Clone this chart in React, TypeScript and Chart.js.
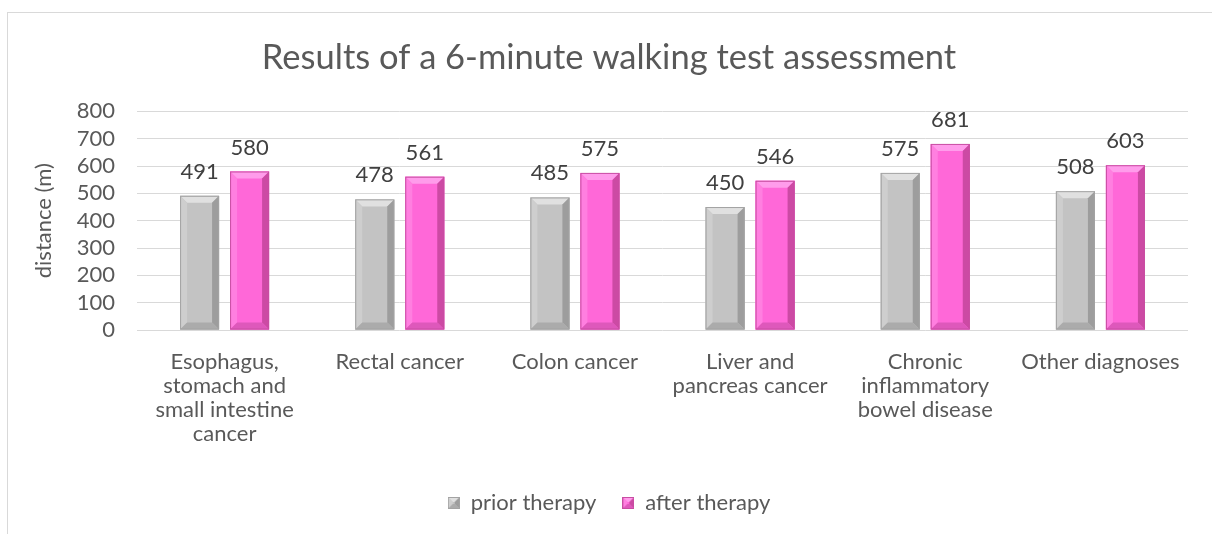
import React, { useEffect, useRef } from "react";
import { Chart, registerables } from "chart.js";

Chart.register(...registerables);

const categories: (string | string[])[] = [
  ["Esophagus,", "stomach and", "small intestine", "cancer"],
  "Rectal cancer",
  "Colon cancer",
  ["Liver and", "pancreas cancer"],
  ["Chronic", "inflammatory", "bowel disease"],
  "Other diagnoses",
];
const priorTherapy = [491, 478, 485, 450, 575, 508];
const afterTherapy = [580, 561, 575, 546, 681, 603];
const seriesNames = ["prior therapy", "after therapy"];
const yTicks = [0, 100, 200, 300, 400, 500, 600, 700, 800];

const FONT = "Lato, 'Open Sans', sans-serif";
const TEXT = "#595959";

type Bevel = { face: string; top: string; left: string; right: string; bottom: string; edge: string };
const GRAY: Bevel = { face: "#c3c3c3", top: "#e0e0e0", left: "#cecece", right: "#9d9d9d", bottom: "#ababab", edge: "#a3a3a3" };
const PINK: Bevel = { face: "#ff68d8", top: "#ff9ceb", left: "#ff7fe0", right: "#cc4aa4", bottom: "#de58bb", edge: "#c84ea2" };

function drawBevel(ctx: CanvasRenderingContext2D, l: number, t: number, r: number, b: number, c: Bevel, bv: number) {
  const poly = (pts: number[][], col: string) => {
    ctx.beginPath();
    ctx.moveTo(pts[0][0], pts[0][1]);
    for (let i = 1; i < pts.length; i++) ctx.lineTo(pts[i][0], pts[i][1]);
    ctx.closePath();
    ctx.fillStyle = col;
    ctx.fill();
  };
  const h = b - t;
  const bb = Math.min(bv, h / 2, (r - l) / 2);
  poly([[l, t], [r, t], [r, b], [l, b]], c.face);
  poly([[l, t], [r, t], [r - bb, t + bb], [l + bb, t + bb]], c.top);
  poly([[l, t], [l + bb, t + bb], [l + bb, b - bb], [l, b]], c.left);
  poly([[r, t], [r, b], [r - bb, b - bb], [r - bb, t + bb]], c.right);
  poly([[l, b], [l + bb, b - bb], [r - bb, b - bb], [r, b]], c.bottom);
  ctx.strokeStyle = c.edge;
  ctx.lineWidth = 1;
  ctx.strokeRect(l + 0.5, t + 0.5, r - l - 1, b - t - 1);
}

function legendIcon(c: Bevel): HTMLCanvasElement {
  const cv = document.createElement("canvas");
  cv.width = 12;
  cv.height = 12;
  const ctx = cv.getContext("2d")!;
  drawBevel(ctx, 0, 0, 12, 12, c, 5);
  return cv;
}

const bevelPlugin = {
  id: "bevelBars",
  afterDatasetsDraw(chart: any) {
    const ctx = chart.ctx;
    const styles = [GRAY, PINK];
    ctx.save();
    chart.data.datasets.forEach((_: any, di: number) => {
      const meta = chart.getDatasetMeta(di);
      meta.data.forEach((bar: any) => {
        const { x, y, base, width } = bar.getProps(["x", "y", "base", "width"], true);
        drawBevel(ctx, x - width / 2, y, x + width / 2, base, styles[di], 7);
      });
    });
    ctx.restore();
  },
};

const valueLabelPlugin = {
  id: "valueLabels",
  afterDatasetsDraw(chart: any) {
    const ctx = chart.ctx;
    ctx.save();
    ctx.font = `22px ${FONT}`;
    ctx.fillStyle = "#404040";
    ctx.textAlign = "center";
    ctx.textBaseline = "alphabetic";
    chart.data.datasets.forEach((ds: any, di: number) => {
      const meta = chart.getDatasetMeta(di);
      meta.data.forEach((bar: any, i: number) => {
        ctx.fillText(String(ds.data[i]), bar.x, bar.y - 17);
      });
    });
    ctx.restore();
  },
};

export default function App() {
  const ref = useRef<HTMLCanvasElement>(null);
  useEffect(() => {
    document.body.style.margin = "0";
    const chart = new Chart(ref.current!, {
      type: "bar",
      data: {
        labels: categories,
        datasets: [
          { label: seriesNames[0], data: priorTherapy, backgroundColor: GRAY.face, pointStyle: legendIcon(GRAY) as any },
          { label: seriesNames[1], data: afterTherapy, backgroundColor: PINK.face, pointStyle: legendIcon(PINK) as any },
        ],
      },
      options: {
        animation: false,
        responsive: false,
        maintainAspectRatio: false,
        datasets: { bar: { categoryPercentage: 0.571, barPercentage: 0.78 } },
        layout: { padding: { left: 30, right: 24, top: 0, bottom: 10 } },
        plugins: {
          title: {
            display: true,
            text: "Results of a 6-minute walking test assessment",
            color: TEXT,
            font: { family: FONT, size: 34.5, weight: "normal" },
            padding: { top: 37, bottom: 33 },
          },
          legend: {
            position: "bottom",
            labels: {
              usePointStyle: true,
              pointStyleWidth: 12,
              boxHeight: 12,
              color: TEXT,
              font: { family: FONT, size: 22 },
              padding: 26,
            },
          },
          tooltip: { enabled: false },
        },
        scales: {
          x: {
            grid: { display: false },
            border: { display: false },
            ticks: {
              color: TEXT,
              font: { family: FONT, size: 22, lineHeight: 1.09 },
              padding: 12,
              maxRotation: 0,
              autoSkip: false,
            },
            afterFit: (s: any) => { s.height = 136; },
          },
          y: {
            min: 0,
            max: 800,
            afterBuildTicks: (s: any) => { s.ticks = yTicks.map((v) => ({ value: v })); },
            grid: { color: "#d9d9d9", drawTicks: false },
            border: { display: false },
            ticks: { color: TEXT, font: { family: FONT, size: 22, lineHeight: 1 }, padding: 22, autoSkip: false },
            title: {
              display: true,
              text: "distance (m)",
              color: TEXT,
              font: { family: FONT, size: 22 },
              padding: { top: 1, bottom: 0 },
            },
            afterFit: (s: any) => { s.width = 107; },
          },
        },
      },
      plugins: [bevelPlugin, valueLabelPlugin],
    });
    return () => chart.destroy();
  }, []);
  return (
    <div style={{ position: "relative", width: 1212, height: 534, overflow: "hidden" }}>
      <div style={{ position: "absolute", left: 7, top: 12, width: 1230, height: 600, border: "1px solid #d9d9d9", boxSizing: "border-box" }} />
      <canvas ref={ref} width={1212} height={534} style={{ position: "absolute", left: 0, top: 0 }} />
    </div>
  );
}
